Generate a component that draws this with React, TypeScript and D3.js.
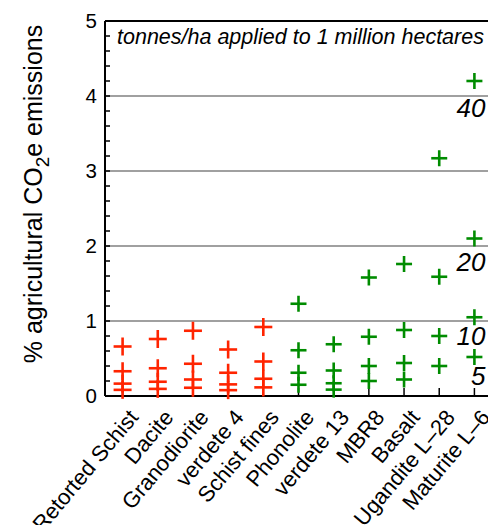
import React from "react";
import * as d3 from "d3";

// Rock types, in plotting order
const rocks = [
  "Retorted Schist",
  "Dacite",
  "Granodiorite",
  "verdete 4",
  "Schist fines",
  "Phonolite",
  "verdete 13",
  "MBR8",
  "Basalt",
  "Ugandite L\u201328",
  "Maturite L\u20136",
];

// Group of each rock (red = slow, green = fast weathering)
const groups = ["red", "red", "red", "red", "red", "green", "green", "green", "green", "green", "green"];

// Application rates (tonnes/ha)
const rates = [40, 20, 10, 5];
// Vertical position (in % units) of each rate's label
const rateLabelAt = [3.72, 1.67, 0.68, 0.15];

// % agricultural CO2e emissions offset at each rate, per rock
const at40 = [0.66, 0.76, 0.87, 0.62, 0.92, 1.23, 0.69, 1.58, 1.76, 3.17, 4.2];
const at20 = [0.33, 0.37, 0.43, 0.31, 0.46, 0.61, 0.34, 0.79, 0.88, 1.59, 2.1];
const at10 = [0.165, 0.19, 0.22, 0.155, 0.23, 0.31, 0.17, 0.4, 0.44, 0.8, 1.05];
const at5 = [0.082, 0.095, 0.11, 0.078, 0.115, 0.15, 0.085, 0.2, 0.22, 0.4, 0.52];

const yTicks = [0, 1, 2, 3, 4, 5];
const gridValues = [1, 2, 3, 4];

const W = 488;
const H = 525;
const left = 105;
const right = 492;
const top = 21;
const bottom = 396;

const colors: Record<string, string> = { red: "#ff2400", green: "#008c00" };
const arms: Record<string, number> = { red: 9, green: 8 };

export default function App() {
  const x = d3.scaleBand<string>().domain(rocks).range([left, right]);
  const y = d3.scaleLinear().domain([0, 5]).range([bottom, top]);
  const cx = (r: string) => (x(r) as number) + x.bandwidth() / 2;
  const series = [at40, at20, at10, at5];
  const minor = d3.range(0, 5.0001, 0.2);
  const font = "'Liberation Sans', Arial, Helvetica, sans-serif";
  const last = rocks[rocks.length - 1];

  return (
    <svg
      width={W}
      height={H}
      style={{ position: "absolute", left: 0, top: 0, background: "#fff" }}
      fontFamily={font}
    >
      {/* gridlines */}
      {gridValues.map((v) => (
        <line key={v} x1={left} x2={W} y1={y(v)} y2={y(v)} stroke="#808080" strokeWidth={1.5} />
      ))}
      {/* frame: top, left, bottom */}
      <line x1={left} x2={W} y1={top} y2={top} stroke="#000" strokeWidth={2} />
      <line x1={left} x2={left} y1={top} y2={bottom} stroke="#000" strokeWidth={2} />
      <line x1={left} x2={W} y1={bottom} y2={bottom} stroke="#000" strokeWidth={2} />
      {/* y minor ticks */}
      {minor.map((v, i) => (
        <line key={i} x1={left} x2={left + 5} y1={y(v)} y2={y(v)} stroke="#000" strokeWidth={1.5} />
      ))}
      {/* x ticks */}
      {rocks.map((r) => (
        <line key={r} x1={cx(r)} x2={cx(r)} y1={bottom} y2={bottom - 8} stroke="#000" strokeWidth={1.5} />
      ))}
      {/* y tick labels */}
      {yTicks.map((v) => (
        <text key={v} x={left - 8} y={y(v)} dy="0.36em" textAnchor="end" fontSize={20.5}>
          {v}
        </text>
      ))}
      {/* y title */}
      <text transform={`translate(42,194) rotate(-90)`} textAnchor="middle" fontSize={25}>
        % agricultural CO
        <tspan fontSize={19} dy={7}>2</tspan>
        <tspan dy={-7}>e emissions</tspan>
      </text>
      {/* x labels */}
      {rocks.map((r) => (
        <text
          key={r}
          transform={`translate(${cx(r) + 5},${bottom + 12}) rotate(-50)`}
          textAnchor="end"
          dy="0.7em"
          fontSize={22}
        >
          {r}
        </text>
      ))}
      {/* title */}
      <text x={117} y={44} fontSize={21.5} fontStyle="italic">
        tonnes/ha applied to 1 million hectares
      </text>
      {/* crosses */}
      {series.map((vals, si) =>
        rocks.map((r, i) => {
          const a = arms[groups[i]];
          return (
            <g key={`${si}-${i}`} stroke={colors[groups[i]]} strokeWidth={2.6}>
              <line x1={cx(r) - a} x2={cx(r) + a} y1={y(vals[i])} y2={y(vals[i])} />
              <line x1={cx(r)} x2={cx(r)} y1={y(vals[i]) - a} y2={y(vals[i]) + a} />
            </g>
          );
        })
      )}
      {/* rate labels beside the last rock's crosses */}
      {rates.map((rate, si) => (
        <text
          key={rate}
          x={cx(last) + 11}
          y={y(rateLabelAt[si])}
          textAnchor="end"
          fontSize={26}
          fontStyle="italic"
        >
          {rate}
        </text>
      ))}
    </svg>
  );
}
